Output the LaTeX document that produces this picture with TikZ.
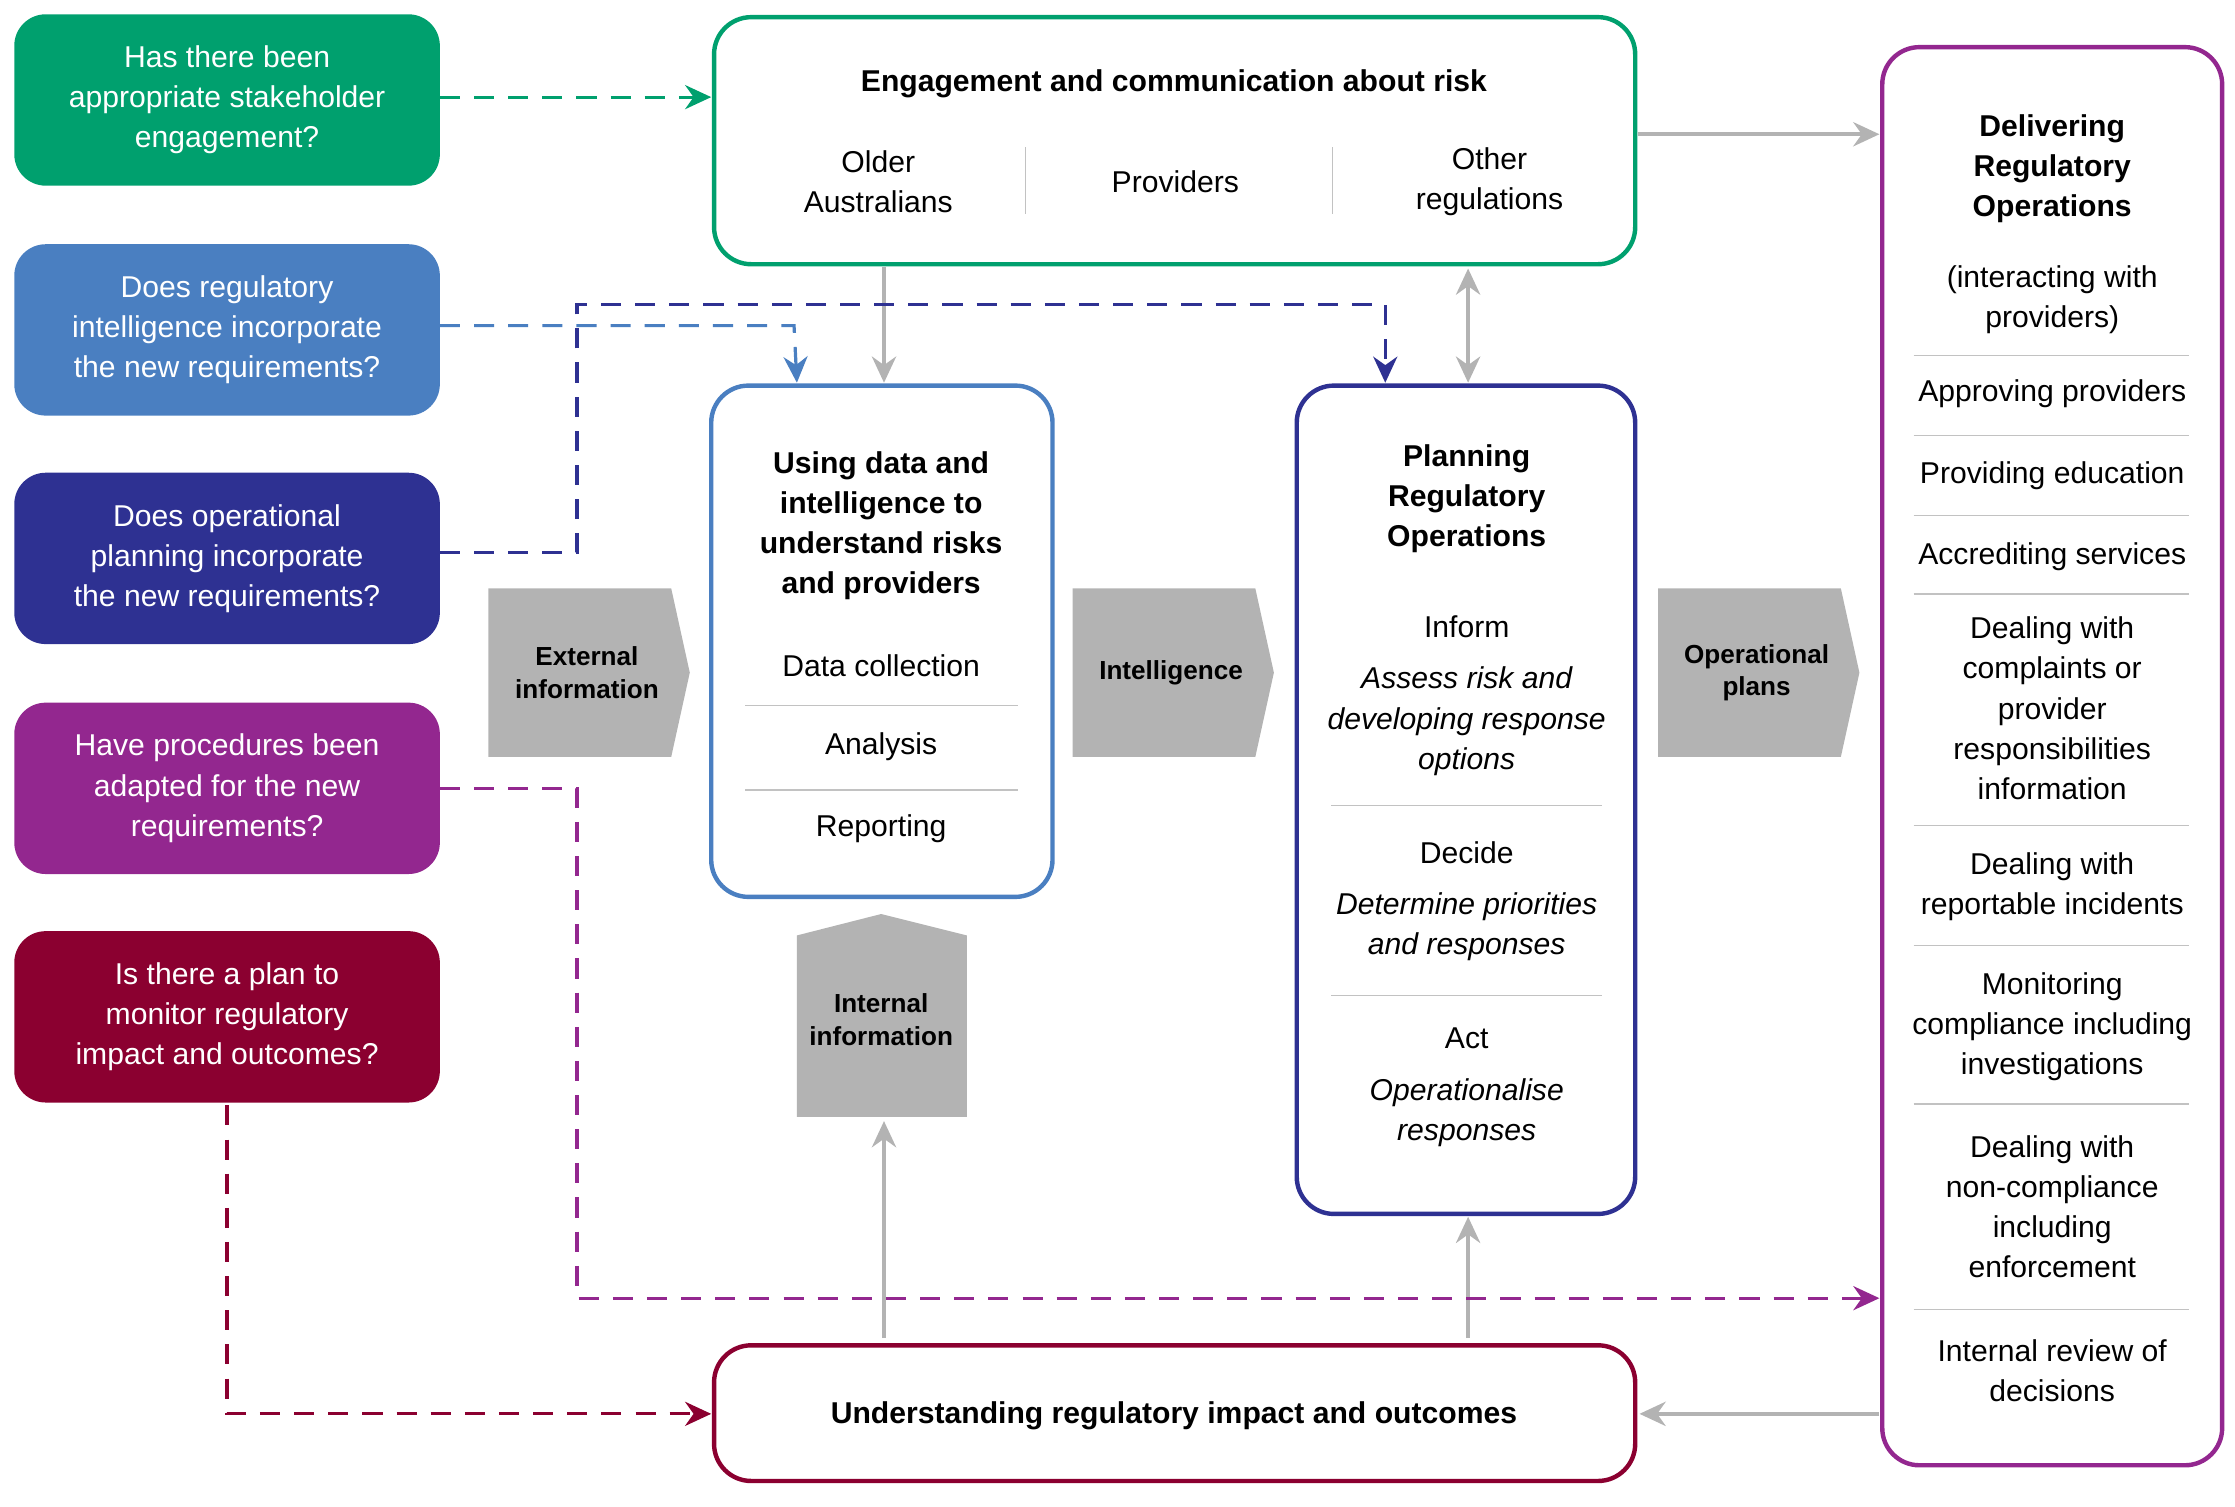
\documentclass[tikz,border=0pt]{standalone}
\usepackage{fontspec}
\setmainfont{Liberation Sans}
\usetikzlibrary{arrows.meta}
\definecolor{qgreen}{HTML}{00A06E}
\definecolor{qblue}{HTML}{4A7FC1}
\definecolor{qnavy}{HTML}{2E3192}
\definecolor{qpurple}{HTML}{93278F}
\definecolor{qred}{HTML}{8B0030}
\definecolor{flow}{HTML}{B3B3B3}
\tikzset{
  txt/.style={align=center,font=\fontsize{15}{20}\selectfont,inner sep=0pt},
  bold/.style={txt,font=\fontsize{15}{20}\selectfont\bfseries},
  ital/.style={txt,font=\fontsize{15}{20}\selectfont\itshape},
  quest/.style={rounded corners=0.55cm,draw=none,fill=#1},
  box/.style={rounded corners=0.65cm,draw=#1,line width=2.2pt,fill=white},
  dash/.style={draw=#1,line width=1.6pt,dash pattern=on 10pt off 7pt,-{Stealth[length=13pt,width=12pt]}},
  grey/.style={draw=flow,line width=2.2pt,-{Stealth[length=13pt,width=12pt]}},
  sep/.style={draw=flow!80,line width=0.8pt}
}
\begin{document}
\begin{tikzpicture}[x=0.025cm,y=-0.025cm]
\useasboundingbox (0,0) rectangle (1565,1055);
% questions
\foreach \c/\y/\d/\t [count=\i] in {qgreen/10/68/{Has there been\\appropriate stakeholder\\engagement?},
  qblue/171/228/{Does regulatory\\intelligence incorporate\\the new requirements?},
  qnavy/331/387/{Does operational\\planning incorporate\\the new requirements?},
  qpurple/492/552/{Have procedures been\\adapted for the new\\requirements?},
  qred/652/712/{Is there a plan to\\monitor regulatory\\impact and outcomes?}}{
  \fill[quest=\c] (10,\y) rectangle (308,\y+120);
  \node[txt,text=white] (q\i) at (159,\y+60) {\t};
  \coordinate (q\i e) at (308,\d);
}
% boxes
\draw[box=qgreen] (500,12) rectangle (1145,185);
\draw[box=qblue] (498,270) rectangle (737,628);
\draw[box=qnavy] (908,270) rectangle (1145,850);
\draw[box=qpurple] (1318,33) rectangle (1556,1026);
\draw[box=qred] (500,942) rectangle (1145,1037);
\node[bold] (engT) at (822,59) {Engagement and communication about risk};
\node[txt] at (615,127) {Older\\Australians};
\node[txt] at (823,127) {Providers};
\node[txt] at (1043,127) {Other\\regulations};
\draw[sep] (718,103) -- (718,150) (933,103) -- (933,150);
\node[bold] (dataT) at (617,368) {Using data and\\intelligence to\\understand risks\\and providers};
\node[txt] at (617,466) {Data collection};
\node[txt] at (617,523) {Analysis};
\node[txt] at (617,580) {Reporting};
\draw[sep] (522,494) -- (713,494) (522,553) -- (713,553);
\node[bold] (planT) at (1027,349) {Planning\\Regulatory\\Operations};
\node[txt] at (1027,439) {Inform};
\node[ital] at (1027,505) {Assess risk and\\developing response\\options};
\node[txt] at (1027,597) {Decide};
\node[ital] at (1027,649) {Determine priorities\\and responses};
\node[txt] at (1027,727) {Act};
\node[ital] at (1027,779) {Operationalise\\responses};
\draw[sep] (932,564) -- (1122,564) (932,697) -- (1122,697);
\node[bold] (delT) at (1437,118) {Delivering\\Regulatory\\Operations};
\foreach \y/\t in {210/{(interacting with\\providers)},276/{Approving providers},333/{Providing education},390/{Accrediting services},
  496/{Dealing with\\complaints or\\provider\\responsibilities\\information},621/{Dealing with\\reportable incidents},719/{Monitoring\\compliance including\\investigations},
  845/{Dealing with\\non-compliance\\including\\enforcement},960/{Internal review of\\decisions}}
  \node[txt] at (1437,\y) {\t};
\foreach \y in {249,305,361,416,578,662,773,917}
  \draw[sep] (1340,\y) -- (1533,\y);
\node[bold] (undT) at (822,991) {Understanding regulatory impact and outcomes};
% grey shapes
\foreach \x/\t [count=\i] in {342/{External\\information},751/{Intelligence},1161/{Operational\\plans}}{
  \fill[flow] (\x,412) -- (\x+128,412) -- (\x+141,471) -- (\x+128,530) -- (\x,530) -- cycle;
  \node[bold,font=\fontsize{13}{16}\selectfont\bfseries] (g\i) at (\x+69,471) {\t};
}
\fill[flow] (558,655) -- (617,640) -- (677,655) -- (677,782) -- (558,782) -- cycle;
\node[bold,font=\fontsize{13}{16}\selectfont\bfseries] (g4) at (617,714) {Internal\\information};
% grey connectors
\draw[grey] (1147,94) -- (1316,94);
\draw[grey] (619,187) -- (619,268);
\draw[grey,{Stealth[length=13pt,width=12pt]}-{Stealth[length=13pt,width=12pt]}] (1028,188) -- (1028,268);
\draw[grey] (619,937) -- (619,785);
\draw[grey] (1028,937) -- (1028,852);
\draw[grey] (1316,990) -- (1148,990);
% dashed
\draw[dash=qgreen] (q1e) -- (498,68);
\draw[dash=qblue] (q2e) -- (556,228) -- (558,268);
\draw[dash=qnavy] (q3e) -- (404,387) -- (404,213) -- (970,213) -- (970,268);
\draw[dash=qpurple] (q4e) -- (404,552) -- (404,909) -- (1316,909);
\draw[dash=qred] (159,774) -- (159,990) -- (498,990);
\end{tikzpicture}
\end{document}
